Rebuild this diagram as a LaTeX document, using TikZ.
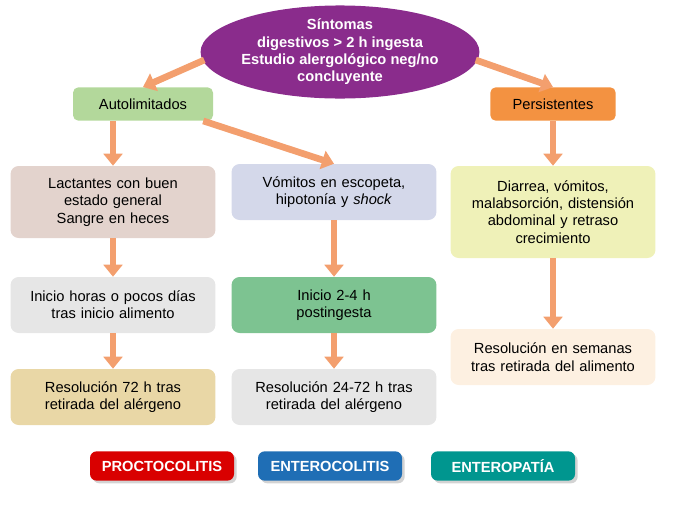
\documentclass[tikz,border=0pt]{standalone}
\usepackage{fontspec}
\setmainfont{Liberation Sans}
\usetikzlibrary{positioning,shapes.geometric,shadows,arrows.meta}
\definecolor{purp}{HTML}{8A2C8C}
\definecolor{autoc}{HTML}{B3D89B}
\definecolor{persc}{HTML}{F39241}
\definecolor{arrc}{HTML}{F0874A}
\definecolor{lactc}{HTML}{E3D3CD}
\definecolor{vomc}{HTML}{D4D8EA}
\definecolor{diarc}{HTML}{EFF1B8}
\definecolor{inic}{HTML}{7DC391}
\definecolor{rsemc}{HTML}{FDF0E1}
\definecolor{rsc}{HTML}{E9D7A6}
\definecolor{greyc}{HTML}{E6E6E6}
\begin{document}
\begin{tikzpicture}[
    x=0.75pt, y=-0.75pt,
    every node/.append style={font=\fontsize{11}{13}\selectfont, align=center},
    box/.style={rectangle, rounded corners=6pt, minimum width=150pt, minimum height=42pt, text width=147pt},
    tag/.style={rectangle, rounded corners=5pt, minimum width=108pt, minimum height=22pt, text=white, font=\bfseries\fontsize{11}{12}\selectfont, drop shadow={shadow xshift=2pt, shadow yshift=-2pt, opacity=0.35}},
    flow/.style={line width=5pt, draw=arrc!80, -{Triangle[length=9pt,width=14pt]}}
]
\useasboundingbox (0,0) rectangle (682,507);
\node (sint) [ellipse, fill=purp, text=white, font=\bfseries\fontsize{11}{13}\selectfont, minimum width=190pt, minimum height=66pt, inner sep=0pt] at (340,52) {Síntomas\\digestivos > 2 h ingesta\\Estudio alergológico neg/no\\concluyente};
\node (auto) [rectangle, rounded corners=4pt, fill=autoc, minimum width=105pt, minimum height=25pt] at (143,104) {Autolimitados};
\node (pers) [rectangle, rounded corners=4pt, fill=persc, minimum width=94pt, minimum height=25pt] at (553,104) {Persistentes};
\node (lact) [box, fill=lactc, minimum height=54pt] at (113,202) {Lactantes con buen\\estado general\\Sangre en heces};
\node (vom) [box, fill=vomc] at (334,192) {Vómitos en escopeta,\\hipotonía y \textit{shock}};
\node (diar) [box, fill=diarc, minimum height=69pt] at (553,212) {Diarrea, vómitos,\\malabsorción, distensión\\abdominal y retraso\\crecimiento};
\node (ihor) [box, fill=greyc] at (113,305) {Inicio horas o pocos días\\tras inicio alimento};
\node (ini) [box, fill=inic] at (334,305) {Inicio 2-4 h\\postingesta};
\node (rsem) [box, fill=rsemc] at (553,357) {Resolución en semanas\\tras retirada del alimento};
\node (r72) [box, fill=rsc] at (113,397) {Resolución 72 h tras\\retirada del alérgeno};
\node (r24) [box, fill=greyc] at (334,397) {Resolución 24-72 h tras\\retirada del alérgeno};
\node (proc) [tag, fill=red!85!black] at (162,466) {PROCTOCOLITIS};
\node (ecol) [tag, fill={rgb,255:red,31;green,110;blue,181}] at (330,466) {ENTEROCOLITIS};
\node (epat) [tag, fill={rgb,255:red,0;green,150;blue,143}] at (503,466) {ENTEROPATÍA};
\draw[flow] (sint.west) ++(4,8) -- (auto.north);
\draw[flow] (sint.east) ++(-4,8) -- (pers.north);
\draw[flow] (auto.south east) ++(-10,0) -- (vom.north);
\draw[flow] (auto.south -| lact.north) -- (lact.north);
\draw[flow] (lact) -- (ihor);
\draw[flow] (ihor) -- (r72);
\draw[flow] (vom) -- (ini);
\draw[flow] (ini) -- (r24);
\draw[flow] (pers) -- (diar);
\draw[flow] (diar) -- (rsem);
\end{tikzpicture}
\end{document}
